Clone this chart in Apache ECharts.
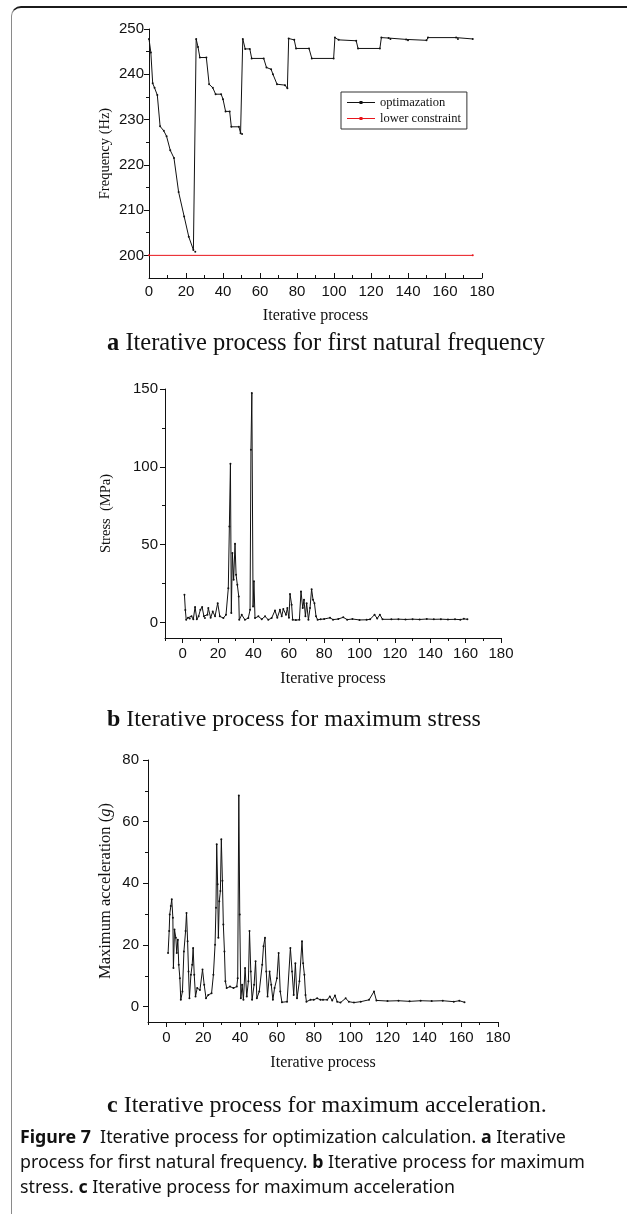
<!DOCTYPE html>
<html>
<head>
<meta charset="utf-8">
<script src="https://cdn.jsdelivr.net/npm/echarts@6/dist/echarts.min.js"></script>
<style>
  html, body { margin: 0; padding: 0; background: #fff; }
  #wrap { position: relative; width: 627px; height: 1214px; overflow: hidden; }
  #frame { position: absolute; left: 11px; top: 6px; width: 650px; height: 1240px;
           border-top: 2px solid #1b1b1b; border-left: 1px solid #8a8a8a; border-top-left-radius: 10px; }
  #main { position: absolute; left: 0; top: 0; width: 627px; height: 1214px; }
</style>
</head>
<body>
<div id="wrap"><div id="frame"></div><div id="main"></div></div>
<script>
// ---- a: first natural frequency (vertices of the iteration curve)
var freqX = [0, 1, 2, 3, 4.5, 6, 8, 9.5, 11.5, 13.5, 16, 19, 21.5, 24, 25,
  25.5, 26.5, 27.5, 31, 32.5, 34.5, 36, 39, 40, 41.4, 43.6, 44.5, 48.6, 49.5, 50.3,
  50.7, 52, 54.5, 55.5, 62, 63.5, 66, 67, 69.2, 73.5, 74.8,
  75.5, 78.5, 79.5, 86.5, 88, 99.8,
  100.5, 102.5, 112, 113, 124.8, 125.6, 129.5, 130.5, 139, 140, 150, 150.8, 166, 167, 175];
var freqY = [247.8, 244.8, 238, 237, 235.4, 228.5, 227.5, 226.3, 223.2, 221.5, 214, 208.6, 204.1, 201.2, 200.8,
  247.8, 246, 243.7, 243.7, 237.8, 237, 235.6, 235.6, 234.5, 231.8, 231.8, 228.4, 228.4, 227, 226.8,
  247.8, 245.6, 245.6, 243.5, 243.5, 241.5, 241.1, 240, 237.8, 237.6, 236.9,
  247.9, 247.6, 245.7, 245.7, 243.5, 243.5,
  248.1, 247.6, 247.4, 245.7, 245.7, 248.1, 248, 247.8, 247.7, 247.5, 247.5, 248.1, 248.1, 247.8, 247.8];
var limitX = [0, 175];
var limitY = [200, 200];

// ---- b: maximum stress
var stressX = [1, 1.5, 2, 3, 4, 5, 6, 7, 8, 9, 10, 11, 12, 12.6, 14, 14.5, 15.8, 17, 18.3, 19.8,
  21, 23, 24.5, 25.8, 26.4, 27, 27.5, 28.1, 28.8, 29.6, 30.2, 30.9, 31.7, 32, 33.4, 35.2, 37.1,
  38.1, 38.6, 39.1, 39.8, 40.3, 40.9, 42.8, 44.7, 46.6, 48.4, 50.3, 52.2, 53.5, 55, 56, 56.9,
  58.4, 59.2, 60.1, 60.7, 61.6, 62.2, 64, 66, 66.9, 67.9, 68.6, 69.4, 70.1, 71.1, 72, 72.9,
  73.7, 74.5, 75.4, 76.3, 78, 80, 83.3, 85, 88, 90.8, 93, 96, 100, 104, 106, 108.5, 110,
  111.5, 113, 118, 122, 126, 130, 134, 138, 142, 146, 150, 154, 157, 159, 161];
var stressY = [17.8, 8, 1.7, 3, 2.5, 4, 2, 9.9, 2, 4, 8.1, 9.9, 4, 2.8, 5, 9.2, 3, 7, 4, 12.4,
  3.9, 2.8, 4.9, 22, 61.7, 102, 6, 44.6, 27.4, 50.5, 30.6, 24.2, 16.7, 1.7, 4.9, 1.7, 2.8,
  8.1, 111, 147.4, 10.3, 26.4, 2.8, 3.9, 2.1, 3.9, 1.7, 2.8, 7.7, 3, 8.1, 4, 8.6,
  5, 9.2, 3, 18.2, 11.4, 1.7, 1.5, 1.7, 19.9, 9.2, 14.6, 3.9, 12.4, 1.7, 9.2, 21.4,
  14.6, 12.4, 3.9, 1.7, 2, 2.2, 3, 1.8, 2.2, 3.3, 1.8, 2.2, 1.6, 1.7, 2, 5, 2.5,
  5, 2, 2, 2.1, 1.9, 2.1, 1.9, 2.2, 2, 2.1, 1.9, 2, 1.8, 2.3, 2];

// ---- c: maximum acceleration
var accX = [0.9, 1.5, 1.8, 2.4, 2.9, 3.5, 3.8, 4.4, 5.1, 5.6, 6.2, 6.7, 7.3, 7.8, 8.7, 9.5, 10.4,
  10.9, 11.5, 12, 12.5, 13.3, 14, 14.5, 15.1, 15.8, 16.7, 18.2, 19.6, 20.5, 21.5, 22.7, 24.5,
  25.5, 26.4, 26.9, 27.3, 27.8, 28.2, 28.7, 29.3, 29.8, 30.4, 30.9, 31.5, 32, 32.7, 34.5, 36.4,
  38.2, 38.7, 39.3, 39.8, 40.4, 41.1, 41.8, 42.7, 43.6, 44.5, 45.1, 45.8, 46.5, 47.6, 48.4, 49.1,
  50.4, 52, 52.7, 53.5, 54.2, 54.9, 56, 56.9, 57.8, 58.7, 60, 60.9, 61.8, 62.7, 65.5, 67.3, 68.2,
  69.1, 70, 70.9, 72.2, 73.6, 74.2, 74.9, 75.5, 76, 78.2, 80, 81.8, 83.6, 85, 87.3, 88.7, 90,
  91.5, 92.7, 94.5, 97.3, 99, 101.8, 105.5, 110, 112.7, 114, 120, 126, 132, 138, 144, 150, 156,
  159, 161.8];
var accY = [17.4, 24.5, 29.9, 32.6, 34.8, 28.8, 12.5, 25, 22.3, 17.4, 21.7, 13.6, 9.2, 2.2, 4.9, 17.9, 24.5,
  30.4, 21.2, 11.4, 2.7, 10.3, 13.6, 19, 10.3, 3.3, 6, 5.4, 12, 7.1, 2.7, 3.8, 4.3,
  10.3, 20.1, 32.1, 52.7, 39.7, 22.3, 34.2, 37.5, 54.3, 40.8, 26.6, 17.9, 8.2, 6, 6.5, 6,
  6.5, 9.2, 68.5, 29.9, 2.7, 7.1, 2.2, 12.5, 3.3, 8.2, 24.5, 11.4, 2.2, 7.1, 14.7, 2.7,
  4.9, 13.6, 19.6, 22.3, 11.4, 3.3, 11.4, 7.1, 2.2, 6, 9.2, 17.4, 4.9, 1.4, 1.6, 19, 11.4,
  3.8, 14.1, 2.7, 8.2, 21.2, 14.1, 10.3, 3.8, 1.6, 2.2, 2.2, 2.7, 2.2, 2.2, 2.2, 3.3, 2,
  3.6, 1.6, 1.3, 2.7, 1.6, 1.3, 1.6, 2.2, 4.9, 2, 1.8, 1.9, 1.7, 1.9, 1.8, 1.9, 1.6,
  1.9, 1.4];

// ---- tick labels
var iterLabels = [0, 20, 40, 60, 80, 100, 120, 140, 160, 180];
var iterMinorA = [10, 30, 50, 70, 90, 110, 130, 150, 170];
var iterMinorBC = [-10, 10, 30, 50, 70, 90, 110, 130, 150, 170];
var freqLabels = [200, 210, 220, 230, 240, 250];
var freqMinor = [205, 215, 225, 235, 245];
var stressLabels = [0, 50, 100, 150];
var stressMinor = [25, 75, 125];
var accLabels = [0, 20, 40, 60, 80];
var accMinor = [10, 30, 50, 70];

var SANS = "'Liberation Sans', Arial, sans-serif";
var SERIF = "'Liberation Serif', 'Times New Roman', serif";
var CAPFONT = "'Noto Sans', sans-serif";
var INK = '#111';

function pairs(xs, ys) {
  return xs.map(function (x, i) { return [x, ys[i]]; });
}

// major axis (line, labels, long ticks) + minor axis (short ticks only)
function axes(dim, grid, min, max, labels, minor, inside, margin, name, nameGap, nameSize) {
  var pos = dim === 'x' ? 'bottom' : 'left';
  var major = {
    type: 'value', gridIndex: grid, position: pos, min: min, max: max,
    name: name, nameLocation: 'middle', nameGap: nameGap, nameMoveOverlap: false,
    nameTextStyle: {
      fontFamily: SERIF, fontSize: nameSize, color: INK,
      rich: { i: { fontFamily: SERIF, fontSize: nameSize, fontStyle: 'italic', color: INK } }
    },
    axisLine: { show: true, onZero: false, lineStyle: { color: INK, width: 1 } },
    axisTick: { show: true, inside: inside, length: 5, customValues: labels, lineStyle: { color: INK } },
    axisLabel: { show: true, customValues: labels, margin: margin, color: INK, fontFamily: SANS, fontSize: 15 },
    splitLine: { show: false }
  };
  var small = {
    type: 'value', gridIndex: grid, position: pos, min: min, max: max,
    axisLine: { show: false, onZero: false },
    axisTick: { show: true, inside: inside, length: 3, customValues: minor, lineStyle: { color: INK } },
    axisLabel: { show: false },
    splitLine: { show: false }
  };
  return [major, small];
}

var xAxes = [].concat(
  axes('x', 0, 0, 180, iterLabels, iterMinorA, true, 6, 'Iterative process', 30, 16),
  axes('x', 1, -10, 180, iterLabels, iterMinorBC, false, 8, 'Iterative process', 33, 16),
  axes('x', 2, -10, 180, iterLabels, iterMinorBC, false, 8, 'Iterative process', 33, 16)
);
var yAxes = [].concat(
  axes('y', 0, 195, 250, freqLabels, freqMinor, false, 5, 'Frequency (Hz)', 36, 14.5),
  axes('y', 1, -10, 150, stressLabels, stressMinor, false, 7, 'Stress  (MPa)', 51, 14.5),
  axes('y', 2, -5, 80, accLabels, accMinor, false, 9, 'Maximum acceleration ({i|g})', 34, 16.5)
);

function curve(name, xi, data, color) {
  return {
    name: name, type: 'line', xAxisIndex: xi, yAxisIndex: xi, data: data,
    symbol: 'circle', symbolSize: 2, showSymbol: true,
    lineStyle: { color: color, width: 1 }, itemStyle: { color: color },
    emphasis: { disabled: true }
  };
}

function cap(top, left, parts, size, family) {
  var rich = {};
  var text = parts.map(function (p, k) {
    var key = 's' + k;
    rich[key] = { fontFamily: family, fontSize: size, fontWeight: p[1] ? 'bold' : 'normal', fill: INK, color: INK };
    return '{' + key + '|' + p[0] + '}';
  }).join('');
  return { type: 'text', left: left, top: top, style: { text: text, rich: rich, fontFamily: family, fontSize: size, fill: INK } };
}

// thin line with a small dot, like the legend keys in the figure
var KEY = 'path://M0,3.5 L28,3.5 L28,4.5 L0,4.5 Z M12.5,2.5 L15.5,2.5 L15.5,5.5 L12.5,5.5 Z';

var chart = echarts.init(document.getElementById('main'));
chart.setOption({
  animation: false,
  grid: [
    { left: 149, top: 29, width: 333, height: 249 },
    { left: 165, top: 389, width: 336, height: 249 },
    { left: 148, top: 760, width: 350, height: 262 }
  ],
  xAxis: xAxes,
  yAxis: yAxes,
  legend: {
    data: [{ name: 'optimazation', icon: KEY }, { name: 'lower constraint', icon: KEY }],
    orient: 'vertical', left: 341, top: 92,
    borderColor: '#333', borderWidth: 1, padding: [4, 6, 4, 6],
    itemGap: 3, itemWidth: 28, itemHeight: 8,
    textStyle: { fontFamily: SERIF, fontSize: 12.5, color: INK }
  },
  series: [
    curve('optimazation', 0, pairs(freqX, freqY), '#111'),
    curve('lower constraint', 0, pairs(limitX, limitY), '#e8151b'),
    curve('stress', 2, pairs(stressX, stressY), '#111'),
    curve('acceleration', 4, pairs(accX, accY), '#111')
  ],
  graphic: [
    cap(331, 107, [['a', true], [' Iterative process for first natural frequency', false]], 24.5, SERIF),
    cap(708, 107, [['b', true], [' Iterative process for maximum stress', false]], 24, SERIF),
    cap(1094, 107, [['c', true], [' Iterative process for maximum acceleration.', false]], 24, SERIF),
    cap(1129, 20, [['Figure 7', true], ['  Iterative process for optimization calculation. ', false], ['a', true], [' Iterative', false]], 17.8, CAPFONT),
    cap(1154, 20, [['process for first natural frequency. ', false], ['b', true], [' Iterative process for maximum', false]], 17.8, CAPFONT),
    cap(1179, 20, [['stress. ', false], ['c', true], [' Iterative process for maximum acceleration', false]], 17.8, CAPFONT)
  ]
});
</script>
</body>
</html>
